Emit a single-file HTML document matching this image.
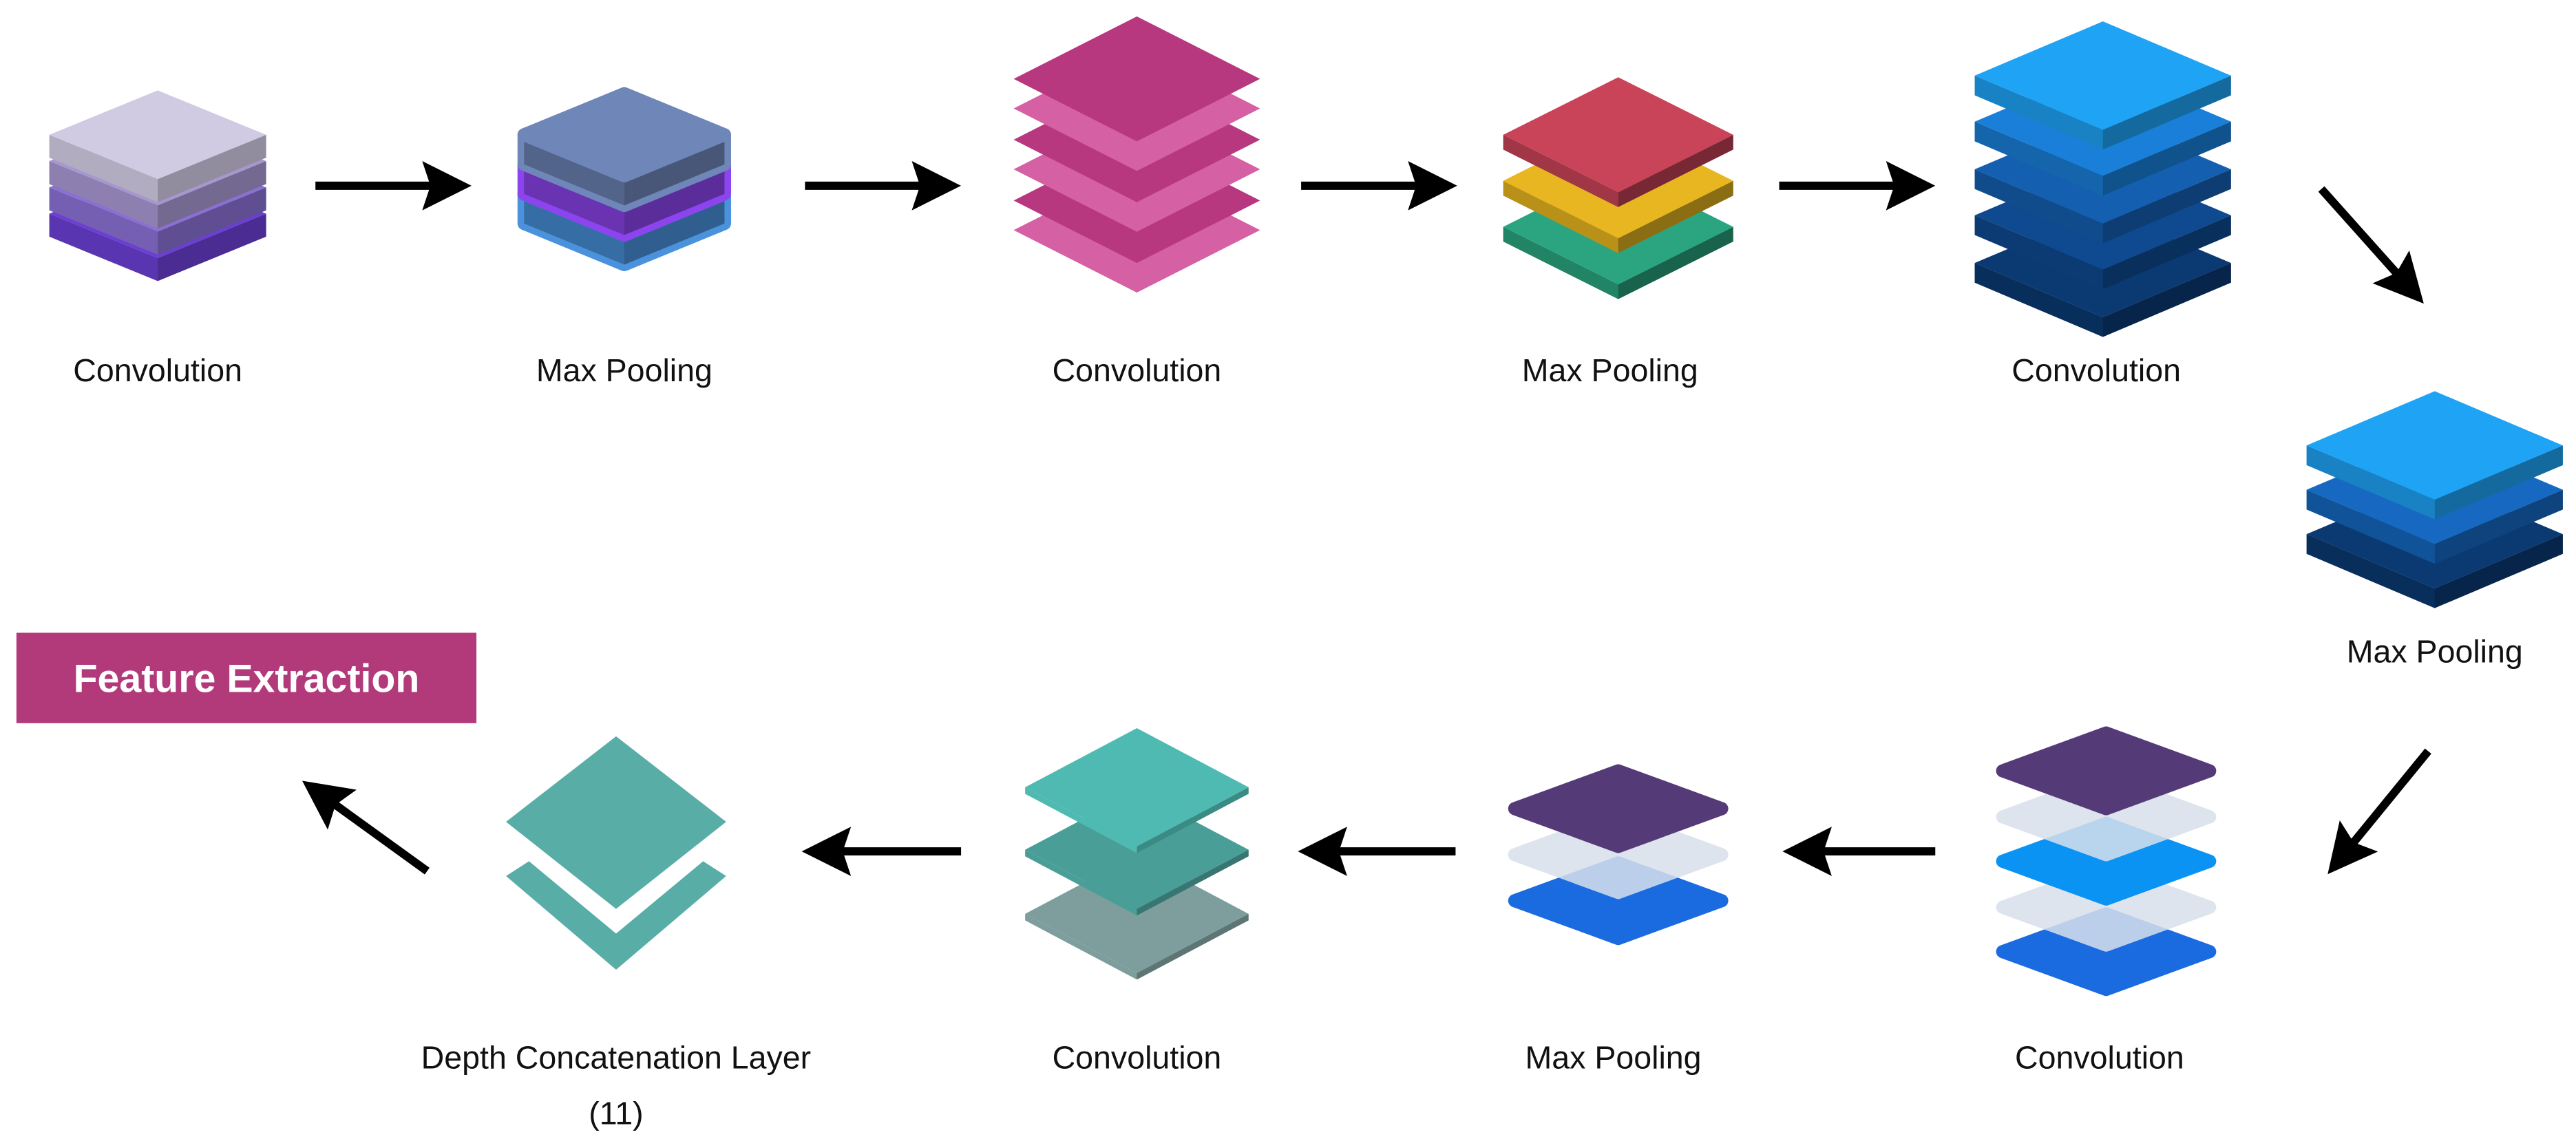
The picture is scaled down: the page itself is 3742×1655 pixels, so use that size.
<!DOCTYPE html>
<html><head><meta charset="utf-8"><style>
html,body{margin:0;padding:0;background:#fff}
svg{display:block}
text{font-family:"Liberation Sans",sans-serif;font-size:19.5px;fill:#111;text-anchor:middle}
</style></head><body>
<svg width="3742" height="1655" viewBox="0 0 1568 693" preserveAspectRatio="none" xmlns="http://www.w3.org/2000/svg">
<defs>
<marker id="ah" markerWidth="6" markerHeight="6" refX="5" refY="3" orient="auto" markerUnits="strokeWidth">
<path d="M0,0 L6,3 L0,6 L1,3 Z" fill="#000"/></marker>
<g id="s1"><polygon points="-66,0 0,27 66,0 66,14 0,41 -66,14"/><polygon fill="#000" opacity=".15" points="-66,0 0,27 0,41 -66,14"/><polygon fill="#000" opacity=".3" points="0,27 66,0 66,14 0,41"/><polygon points="0,-27 66,0 0,27 -66,0"/></g>
<g id="s2" stroke-linejoin="round" stroke-width="8"><polygon stroke="currentColor" points="-61,0 0,25 61,0 61,18 0,43 -61,18"/><polygon fill="#000" opacity=".25" points="-61,0 0,25 0,43 -61,18"/><polygon fill="#000" opacity=".35" points="0,25 61,0 61,18 0,43"/><polygon stroke="currentColor" points="0,-25 61,0 0,25 -61,0"/></g>
<g id="s3"><polygon points="-70,0 0,35 70,0 70,9 0,44 -70,9"/><polygon fill="#000" opacity=".2" points="-70,0 0,35 0,44 -70,9"/><polygon fill="#000" opacity=".4" points="0,35 70,0 70,9 0,44"/><polygon points="0,-35 70,0 0,35 -70,0"/></g>
<g id="s4"><polygon points="-78,0 0,33 78,0 78,12 0,45 -78,12"/><polygon fill="#000" opacity=".2" points="-78,0 0,33 0,45 -78,12"/><polygon fill="#000" opacity=".35" points="0,33 78,0 78,12 0,45"/><polygon points="0,-33 78,0 0,33 -78,0"/></g>
<g id="d5" stroke-linejoin="round" stroke-width="8"><polygon stroke="currentColor" points="0,-23 63,0 0,23 -63,0"/></g>
<g id="s6"><polygon points="-68,0 0,36 68,0 68,4 0,40 -68,4"/><polygon fill="#000" opacity=".25" points="0,36 68,0 68,4 0,40"/><polygon points="0,-36 68,0 0,36 -68,0"/></g>
</defs>

<use href="#s1" x="96" y="130" fill="#6a3fd2"/>
<use href="#s1" x="96" y="114" fill="#8a70d2"/>
<use href="#s1" x="96" y="98" fill="#a697cf"/>
<use href="#s1" x="96" y="82" fill="#d0cae2"/>
<text x="96" y="232">Convolution</text>

<use href="#s2" x="380" y="118" fill="#4a92dc" color="#4a92dc"/>
<use href="#s2" x="380" y="100" fill="#8c45ee" color="#8c45ee"/>
<use href="#s2" x="380" y="82" fill="#6f86b8" color="#6f86b8"/>
<text x="380" y="232">Max Pooling</text>

<g>
<polygon fill="#d560a4" points="692,102 767,140 692,178 617,140"/>
<polygon fill="#b8387f" points="692,84 767,122 692,160 617,122"/>
<polygon fill="#d560a4" points="692,65 767,103 692,141 617,103"/>
<polygon fill="#b8387f" points="692,47 767,85 692,123 617,85"/>
<polygon fill="#d560a4" points="692,28 767,66 692,104 617,66"/>
<polygon fill="#b8387f" points="692,10 767,48 692,86 617,48"/>
</g>
<text x="692" y="232">Convolution</text>

<use href="#s3" x="985" y="138" fill="#2aa57f"/>
<use href="#s3" x="985" y="110" fill="#e8b620"/>
<use href="#s3" x="985" y="82" fill="#c94458"/>
<text x="980" y="232">Max Pooling</text>

<use href="#s4" x="1280" y="160" fill="#0b3a72"/>
<use href="#s4" x="1280" y="131" fill="#0f4a90"/>
<use href="#s4" x="1280" y="103" fill="#145fb0"/>
<use href="#s4" x="1280" y="74" fill="#1a7fd8"/>
<use href="#s4" x="1280" y="46" fill="#1fa3f5"/>
<text x="1276" y="232">Convolution</text>

<use href="#s4" x="1482" y="325" fill="#0b3a72"/>
<use href="#s4" x="1482" y="298" fill="#1668c0"/>
<use href="#s4" x="1482" y="271" fill="#1fa3f5"/>
<text x="1482" y="403">Max Pooling</text>

<use href="#d5" x="1282" y="579" fill="#1a6be0" color="#1a6be0"/>
<use href="#d5" x="1282" y="552" fill="#d8e0ec" color="#d8e0ec" opacity=".85"/>
<use href="#d5" x="1282" y="524" fill="#0a93f3" color="#0a93f3"/>
<use href="#d5" x="1282" y="497" fill="#d8e0ec" color="#d8e0ec" opacity=".85"/>
<use href="#d5" x="1282" y="469" fill="#553a78" color="#553a78"/>
<text x="1278" y="650">Convolution</text>

<use href="#d5" x="985" y="548" fill="#1a6be0" color="#1a6be0"/>
<use href="#d5" x="985" y="520" fill="#d8e0ec" color="#d8e0ec" opacity=".85"/>
<use href="#d5" x="985" y="492" fill="#553a78" color="#553a78"/>
<text x="982" y="650">Max Pooling</text>

<use href="#s6" x="692" y="556" fill="#7d9e9c"/>
<use href="#s6" x="692" y="517" fill="#4a9e98"/>
<use href="#s6" x="692" y="479" fill="#4fbab2"/>
<text x="692" y="650">Convolution</text>

<polygon fill="#58aea7" points="375,448 442,500 375,553 308,500"/>
<polygon fill="#58aea7" points="308,533 322,524 375,568 428,524 442,533 375,590"/>
<text x="375" y="650">Depth Concatenation Layer</text>
<text x="375" y="684">(11)</text>

<rect x="10" y="385" width="280" height="55" fill="#b23a7b"/>
<text x="150" y="421" style="fill:#fff;font-weight:bold;font-size:24px">Feature Extraction</text>

<g stroke="#000" stroke-width="5" fill="none" marker-end="url(#ah)">
<line x1="192" y1="113" x2="282" y2="113"/>
<line x1="490" y1="113" x2="580" y2="113"/>
<line x1="792" y1="113" x2="882" y2="113"/>
<line x1="1083" y1="113" x2="1173" y2="113"/>
<line x1="1413" y1="115" x2="1472" y2="181"/>
<line x1="1478" y1="457" x2="1420" y2="528"/>
<line x1="1178" y1="518" x2="1090" y2="518"/>
<line x1="886" y1="518" x2="795" y2="518"/>
<line x1="585" y1="518" x2="493" y2="518"/>
<line x1="260" y1="530" x2="188" y2="478"/>
</g>
</svg>
</body></html>
